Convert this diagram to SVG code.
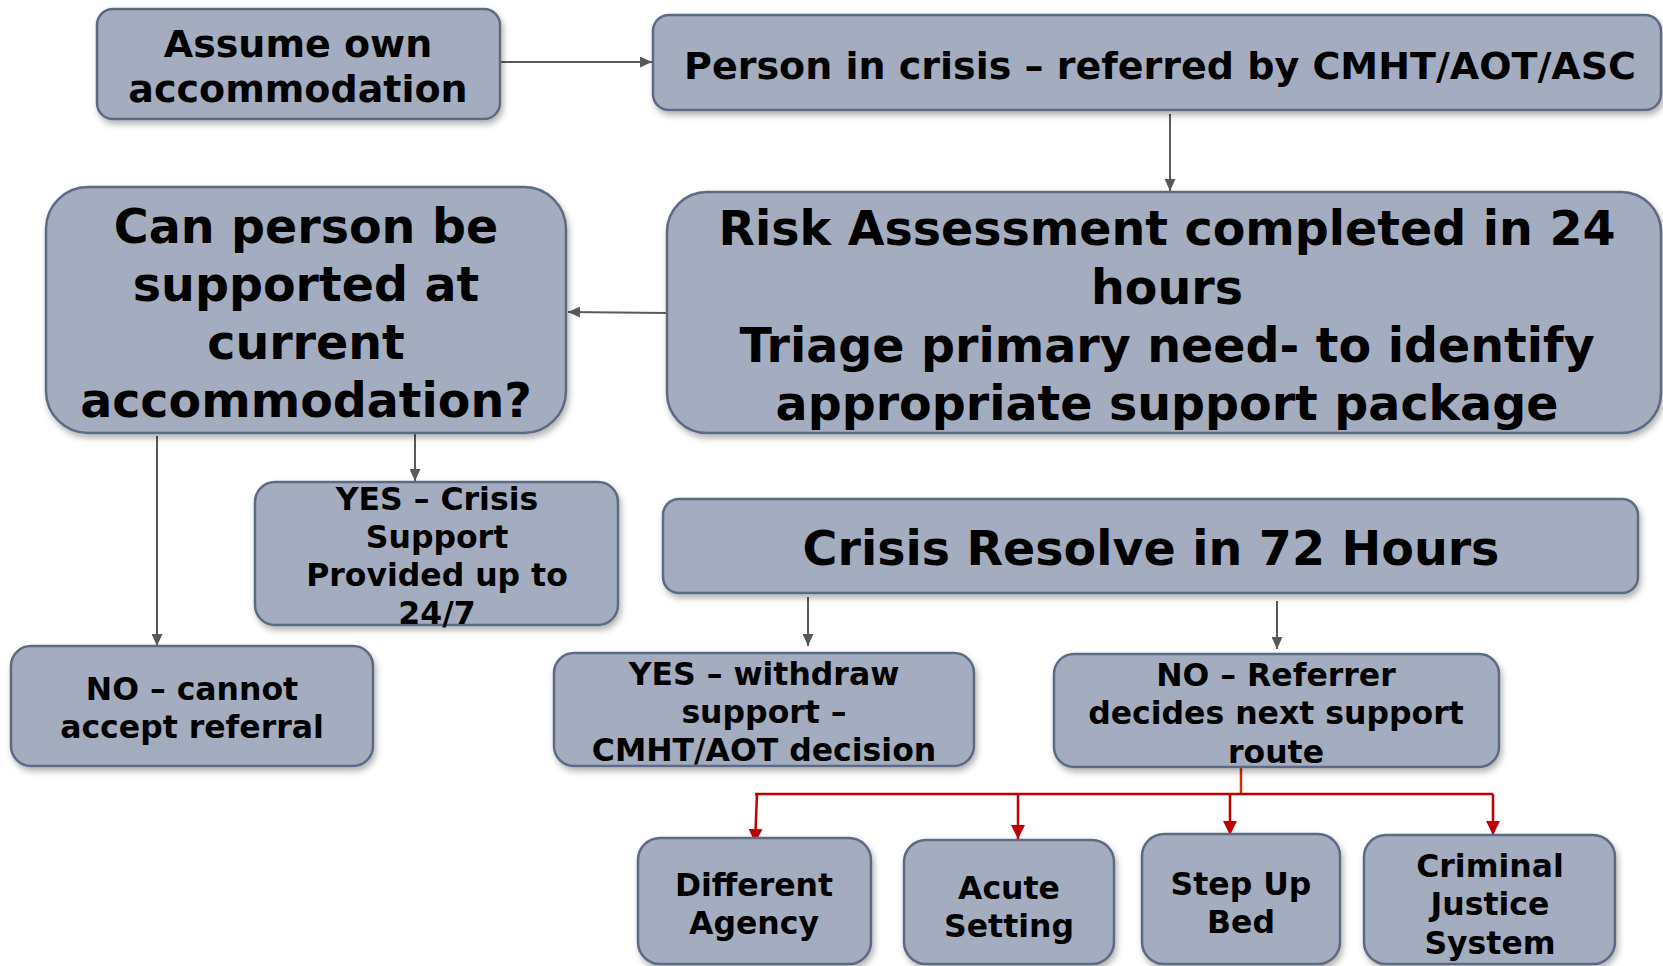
<svg xmlns="http://www.w3.org/2000/svg" width="1663" height="966" viewBox="0 0 1663 966">
<defs>
<filter id="sh" x="-5%" y="-5%" width="110%" height="120%">
<feDropShadow dx="2" dy="4" stdDeviation="3" flood-color="#000" flood-opacity="0.3"/>
</filter>
<marker id="ag" viewBox="0 0 10 10" refX="10" refY="5" markerWidth="12" markerHeight="11" markerUnits="userSpaceOnUse" orient="auto" preserveAspectRatio="none">
<path d="M0,0 L10,5 L0,10 z" fill="#595959"/>
</marker>
<marker id="ar" viewBox="0 0 10 10" refX="10" refY="5" markerWidth="14" markerHeight="14" markerUnits="userSpaceOnUse" orient="auto">
<path d="M0,0 L10,5 L0,10 z" fill="#C00000"/>
</marker>
</defs>
<style>
.box{fill:#A4ACBF;stroke:#5C6B85;stroke-width:2.5;filter:url(#sh)}
text{font-family:"DejaVu Sans","Liberation Sans",sans-serif;font-weight:bold;fill:#000;text-anchor:middle}
.f38{font-size:38px}
.f48{font-size:47.5px}
.f31{font-size:31.5px}
.g{stroke:#595959;stroke-width:2;fill:none}
.r{stroke:#C00000;stroke-width:2.5;fill:none}
</style>
<rect width="1663" height="966" fill="#fff"/>

<g id="connectors">
<line class="g" x1="500" y1="62" x2="652" y2="62" marker-end="url(#ag)"/>
<line class="g" x1="1170" y1="114" x2="1170" y2="191" marker-end="url(#ag)"/>
<line class="g" x1="667" y1="313" x2="568" y2="312" marker-end="url(#ag)"/>
<line class="g" x1="415" y1="434" x2="415" y2="481" marker-end="url(#ag)"/>
<line class="g" x1="157" y1="436" x2="157" y2="646" marker-end="url(#ag)"/>
<line class="g" x1="808" y1="597" x2="808" y2="646" marker-end="url(#ag)"/>
<line class="g" x1="1277" y1="601" x2="1277" y2="649" marker-end="url(#ag)"/>
<line class="r" x1="1241" y1="767" x2="1241" y2="794" style="stroke:#D03000"/>
<line class="r" x1="755" y1="794" x2="1493" y2="794"/>
<line class="r" x1="757" y1="794" x2="755" y2="843" marker-end="url(#ar)"/>
<line class="r" x1="1018" y1="794" x2="1018" y2="839" marker-end="url(#ar)"/>
<line class="r" x1="1230" y1="794" x2="1230" y2="835" marker-end="url(#ar)"/>
<line class="r" x1="1493" y1="794" x2="1493" y2="835" marker-end="url(#ar)"/>
</g>

<g id="assume">
<rect class="box" x="97" y="9" width="403" height="110" rx="16"/>
<text class="f38" x="298" y="57">Assume own</text>
<text class="f38" x="298" y="102">accommodation</text>
</g>

<g id="person">
<rect class="box" x="653" y="15" width="1008" height="95" rx="16"/>
<text class="f38" x="1160" y="79">Person in crisis – referred by CMHT/AOT/ASC</text>
</g>

<g id="risk">
<rect class="box" x="667" y="192" width="994" height="241" rx="40"/>
<text class="f48" x="1167" y="245">Risk Assessment completed in 24</text>
<text class="f48" x="1167" y="304">hours</text>
<text class="f48" x="1167" y="362">Triage primary need- to identify</text>
<text class="f48" x="1167" y="420">appropriate support package</text>
</g>

<g id="canperson">
<rect class="box" x="46" y="187" width="520" height="246" rx="42"/>
<text class="f48" x="306" y="243">Can person be</text>
<text class="f48" x="306" y="301">supported at</text>
<text class="f48" x="306" y="359">current</text>
<text class="f48" x="306" y="417">accommodation?</text>
</g>

<g id="yescrisis">
<rect class="box" x="255" y="482" width="363" height="143" rx="20"/>
<text class="f31" x="437" y="510">YES – Crisis</text>
<text class="f31" x="437" y="548">Support</text>
<text class="f31" x="437" y="586">Provided up to</text>
<text class="f31" x="437" y="624">24/7</text>
</g>

<g id="nocannot">
<rect class="box" x="11" y="646" width="362" height="120" rx="20"/>
<text class="f31" x="192" y="700">NO – cannot</text>
<text class="f31" x="192" y="738">accept referral</text>
</g>

<g id="resolve">
<rect class="box" x="663" y="499" width="975" height="94" rx="16"/>
<text class="f48" x="1151" y="565">Crisis Resolve in 72 Hours</text>
</g>

<g id="yeswithdraw">
<rect class="box" x="554" y="653" width="420" height="113" rx="20"/>
<text class="f31" x="764" y="685">YES – withdraw</text>
<text class="f31" x="764" y="723">support –</text>
<text class="f31" x="764" y="761">CMHT/AOT decision</text>
</g>

<g id="noreferrer">
<rect class="box" x="1054" y="654" width="445" height="113" rx="20"/>
<text class="f31" x="1276" y="686">NO – Referrer</text>
<text class="f31" x="1276" y="724">decides next support</text>
<text class="f31" x="1276" y="763">route</text>
</g>

<g id="different">
<rect class="box" x="638" y="838" width="233" height="126" rx="22"/>
<text class="f31" x="754" y="896">Different</text>
<text class="f31" x="754" y="934">Agency</text>
</g>

<g id="acute">
<rect class="box" x="904" y="840" width="210" height="124" rx="22"/>
<text class="f31" x="1009" y="899">Acute</text>
<text class="f31" x="1009" y="937">Setting</text>
</g>

<g id="stepup">
<rect class="box" x="1142" y="834" width="198" height="130" rx="22"/>
<text class="f31" x="1241" y="895">Step Up</text>
<text class="f31" x="1241" y="933">Bed</text>
</g>

<g id="criminal">
<rect class="box" x="1364" y="835" width="251" height="129" rx="22"/>
<text class="f31" x="1490" y="877">Criminal</text>
<text class="f31" x="1490" y="915">Justice</text>
<text class="f31" x="1490" y="954">System</text>
</g>
</svg>
